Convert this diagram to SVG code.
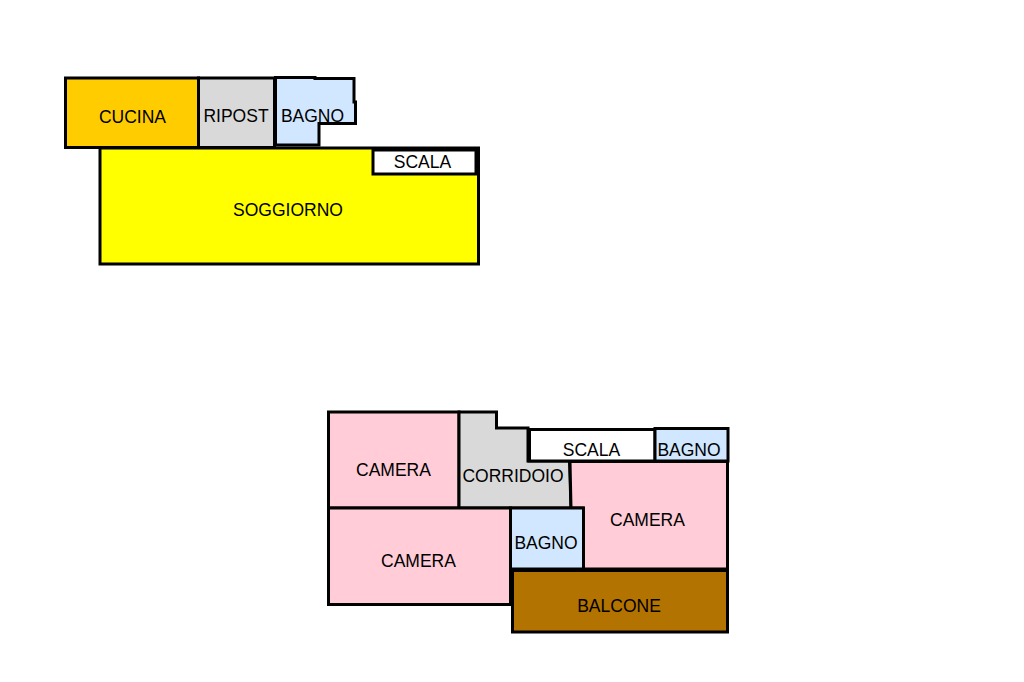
<svg xmlns="http://www.w3.org/2000/svg" width="1024" height="682" viewBox="0 0 1024 682">
<style>
.r{stroke:#000;stroke-width:3;stroke-linejoin:miter}
.e{fill:none;stroke:#000}
text{font-family:"Liberation Sans",Arial,sans-serif;font-size:17.500px;fill:#000;text-anchor:middle}
.pink{fill:#ffccd7}.blue{fill:#d0e7ff}.grey{fill:#d9d9d9}.white{fill:#fff}
</style>
<rect width="1024" height="682" fill="#fff"/>
<g id="soggiorno"><rect class="r" x="100" y="148" width="378.500" height="116" fill="#ffff00"/><text x="288" y="215.700">SOGGIORNO</text></g>
<g id="cucina"><rect class="r" x="65.500" y="78" width="133" height="69.500" fill="#ffcc00"/><text x="132.500" y="122.700">CUCINA</text></g>
<g id="ripost"><rect class="r grey" x="198.500" y="78" width="76" height="69.500"/><text x="236" y="121.700">RIPOST</text></g>
<g id="bagno1"><path class="r blue" d="M275.500 77.500H315V78.500H354V102H355.500V123.500H319V145H275.500Z"/><text x="312.500" y="121.700">BAGNO</text></g>
<g id="scala1"><rect class="r white" x="373" y="150" width="103" height="24"/><path class="e" stroke-width="3" d="M373 149H478"/><text x="422.500" y="167.700">SCALA</text></g>
<g id="camera1"><rect class="r pink" x="328.500" y="412" width="130.500" height="96"/><text x="393.500" y="475.700">CAMERA</text></g>
<g id="corridoio"><path class="r grey" d="M459 412H496.500V428H528V461H569.500L571 508H459Z"/><text x="513" y="481.700">CORRIDOIO</text></g>
<g id="camera2"><rect class="r pink" x="328.500" y="508" width="182" height="96.500"/><text x="418.500" y="566.700">CAMERA</text></g>
<g id="camera3"><path class="r pink" d="M570 461.500H727.500V569H583V508H571Z"/><text x="647.500" y="525.700">CAMERA</text></g>
<g id="scala2"><rect class="r white" x="529" y="429.500" width="126" height="31.500"/><path class="e" stroke-width="4" d="M529 428V462"/><text x="591.500" y="455.700">SCALA</text></g>
<g id="bagno2"><rect class="r blue" x="655" y="428.500" width="73" height="32.500"/><text x="689" y="455.700">BAGNO</text></g>
<g id="bagno3"><rect class="r blue" x="510.500" y="508" width="73" height="61"/><text x="546" y="548.700">BAGNO</text></g>
<g id="balcone"><rect class="r" x="512.500" y="570.500" width="215" height="61.500" fill="#b27300"/><path class="e" stroke-width="4" d="M511 570H729"/><text x="619" y="611.700">BALCONE</text></g>
</svg>
